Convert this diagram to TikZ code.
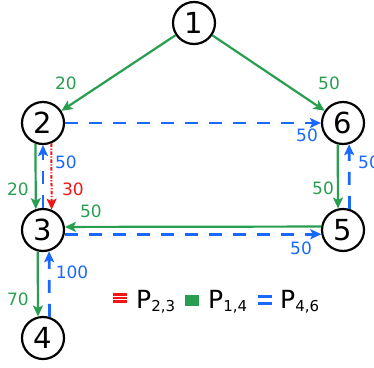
\documentclass[tikz,border=0pt]{standalone}
\usepackage{fontspec}
\setmainfont{DejaVu Sans}
\usetikzlibrary{arrows.meta}
\definecolor{pgreen}{RGB}{40,158,80}
\definecolor{pblue}{RGB}{25,105,255}
\definecolor{pred}{RGB}{240,20,20}
\newcommand{\pathlabel}[1]{{\fontsize{25}{25}\selectfont P}\raisebox{-3pt}{\fontsize{15}{15}\selectfont #1}}
\begin{document}
\begin{tikzpicture}[x=1pt,y=-1pt,
  vertex/.style={circle,draw=black,line width=2.2pt,minimum size=42pt,inner sep=0pt,
    font=\fontsize{29}{29}\selectfont},
  tipend/.style={-{Stealth[length=11pt,width=10pt,inset=2.5pt]}},
  gedge/.style={tipend,draw=pgreen,line width=2.2pt},
  bedge/.style={tipend,draw=pblue,line width=2.8pt,dash pattern=on 13pt off 11pt},
  redge/.style={tipend,draw=pred,line width=2pt,dash pattern=on 3.5pt off 1.6pt on 1.2pt off 1.6pt},
  lab/.style={font=\fontsize{17}{17}\selectfont,inner sep=0pt},
  glab/.style={lab,text=pgreen},
  blab/.style={lab,text=pblue},
  rlab/.style={lab,text=pred}]
\useasboundingbox (0,0) rectangle (374,367);

% vertices
\node[vertex] (n1) at (194,23) {1};
\node[vertex] (n2) at (43,123) {2};
\node[vertex] (n6) at (343,123) {6};
\node[vertex] (n3) at (43,230) {3};
\node[vertex] (n5) at (343,230) {5};
\node[vertex] (n4) at (43,338) {4};

% green path P_{1,4}
\draw[gedge] (n1) -- (n2);
\draw[gedge] (n1) -- (n6);
\draw[gedge] (n2.250.5) -- (n3.109.5);
\draw[gedge] (n6.256.2) -- (n5.103.8);
\draw[gedge] (n5.171.8) -- (n3.8.2);
\draw[gedge] (n3.256.2) -- (n4.103.8);

% blue path P_{4,6}
\draw[bedge] (n4.73.4) -- (n3.286.6);
\draw[bedge] (n3.north) -- (n2.south);
\draw[bedge] (n2) -- (n6);
\draw[bedge] (n3.349) -- (n5.191);
\draw[bedge] (n5.73.4) -- (n6.286.6);

% red path P_{2,3}
\draw[redge] (n2.292.4) -- (n3.67.6);

% edge weights
\node[glab] (w12) at (66,83) {20};
\node[glab] (w16) at (329,83) {50};
\node[blab] (w26) at (307,135) {50};
\node[blab,anchor=west] (w56) at (358,162) {50};
\node[glab] (w65) at (323,188) {50};
\node[blab] (w35) at (301,248) {50};
\node[glab] (w53) at (91,211) {50};
\node[blab] (w32) at (66,162) {50};
\node[rlab] (w23r) at (73,189) {30};
\node[glab] (w23g) at (18,189) {20};
\node[glab] (w34) at (18,299) {70};
\node[blab] (w43) at (72,272) {100};

% legend
\fill[pred] (113,293.3) rectangle (127,295.7);
\fill[pred] (113,296.8) rectangle (127,299.2);
\fill[pred] (113,300.3) rectangle (127,302.7);
\node[anchor=base west,inner sep=0pt] (l23) at (136,308) {\pathlabel{2,3}};
\fill[pgreen] (185,294.5) rectangle (199,305.5);
\node[anchor=base west,inner sep=0pt] (l14) at (208,308) {\pathlabel{1,4}};
\fill[pblue] (258,294.5) rectangle (272,298);
\fill[pblue] (258,301.5) rectangle (272,305);
\node[anchor=base west,inner sep=0pt] (l46) at (280,308) {\pathlabel{4,6}};
\end{tikzpicture}
\end{document}
